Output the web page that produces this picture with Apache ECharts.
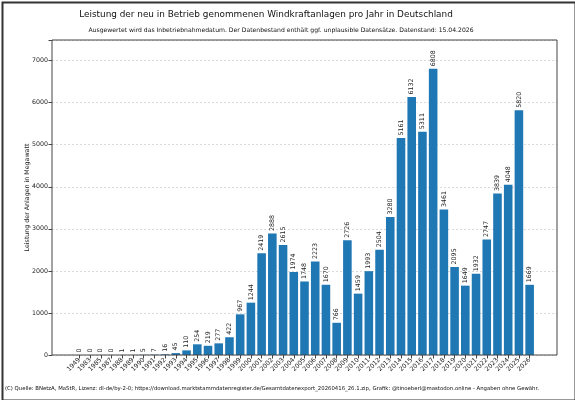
<!DOCTYPE html>
<html><head><meta charset="utf-8">
<script src="https://cdn.jsdelivr.net/npm/echarts@6/dist/echarts.min.js"></script>
<style>html,body{margin:0;padding:0;background:#fff}#c{width:575px;height:400px}</style>
</head><body><div id="c"></div>
<script>
const years = ['1949','1983','1985','1987','1988','1989','1990','1991','1992','1993','1994','1995','1996','1997','1998','1999','2000','2001','2002','2003','2004','2005','2006','2007','2008','2009','2010','2011','2012','2013','2014','2015','2016','2017','2018','2019','2020','2021','2022','2023','2024','2025','2026'];
const leistung = [0,0,0,0,1,1,5,7,16,45,110,254,219,277,422,967,1244,2419,2888,2615,1974,1748,2223,1670,766,2726,1459,1993,2504,3280,5161,6132,5311,6808,3461,2095,1649,1932,2747,3839,4048,5820,1669];
const yTicks = [0,1000,2000,3000,4000,5000,6000,7000];

const FONT = 'DejaVu Sans';
const YMAX = 7490;
const chart = echarts.init(document.getElementById('c'), null, {renderer:'canvas'});
chart.setOption({
  animation:false,
  textStyle:{fontFamily:FONT},
  title:[
    {text:'Leistung der neu in Betrieb genommenen Windkraftanlagen pro Jahr in Deutschland',left:266,top:10,textAlign:'center',padding:0,
     textStyle:{fontFamily:FONT,fontSize:8.9,fontWeight:'normal',color:'#111'}},
    {text:'Ausgewertet wird das Inbetriebnahmedatum. Der Datenbestand enthält ggf. unplausible Datensätze. Datenstand: 15.04.2026',left:281,top:27,textAlign:'center',padding:0,
     textStyle:{fontFamily:FONT,fontSize:6.1,fontWeight:'normal',color:'#111'}},
    {text:'(C) Quelle: BNetzA, MaStR, Lizenz: dl-de/by-2-0; https://download.marktstammdatenregister.de/Gesamtdatenexport_20260416_26.1.zip, Grafik: @tinoeberl@mastodon.online - Angaben ohne Gewähr.',left:5,top:386,padding:0,
     textStyle:{fontFamily:FONT,fontSize:5.35,fontWeight:'normal',color:'#111'}}
  ],
  graphic:[{type:'rect',left:0,top:0,shape:{x:1,y:1,width:573,height:398},style:{fill:null,stroke:'#333',lineWidth:2},silent:true}],
  grid:[
    {left:52,right:18,top:40,bottom:45,show:true,borderColor:'#444',borderWidth:1,backgroundColor:'transparent',z:5},
    {left:74,right:40,top:40,bottom:45}
  ],
  xAxis:[
    {gridIndex:0,type:'value',min:0,max:1,show:false},
    {gridIndex:1,type:'category',data:years,boundaryGap:true,
     axisLine:{show:false},
     axisTick:{show:true,alignWithLabel:true,length:3.5,lineStyle:{color:'#444'}},
     axisLabel:{rotate:45,interval:0,fontSize:6.3,color:'#222',margin:4,fontFamily:FONT}}
  ],
  yAxis:[
    {gridIndex:0,type:'value',min:0,max:YMAX,interval:1000,
     name:'Leistung der Anlagen in Megawatt',nameLocation:'middle',nameGap:22,nameMoveOverlap:false,
     nameTextStyle:{fontFamily:FONT,fontSize:6.3,color:'#222'},
     axisLine:{show:false},
     axisTick:{show:true,length:3.5,lineStyle:{color:'#444'}},
     axisLabel:{fontSize:6.3,color:'#222',margin:4,fontFamily:FONT,
       formatter:v=>yTicks.indexOf(v)>=0?String(v):''},
     splitLine:{show:true,lineStyle:{color:'#d0d0d0',type:[2,2],width:0.8}}},
    {gridIndex:1,type:'value',min:0,max:YMAX,interval:1000,show:false,splitLine:{show:false}}
  ],
  series:[{
    type:'bar',xAxisIndex:1,yAxisIndex:1,data:leistung,barCategoryGap:'20%',
    itemStyle:{color:'#1f77b4'},
    label:{show:true,position:'top',rotate:90,align:'left',verticalAlign:'middle',distance:2.5,
      fontSize:6.3,color:'#222',fontFamily:FONT}
  }]
});
</script></body></html>
